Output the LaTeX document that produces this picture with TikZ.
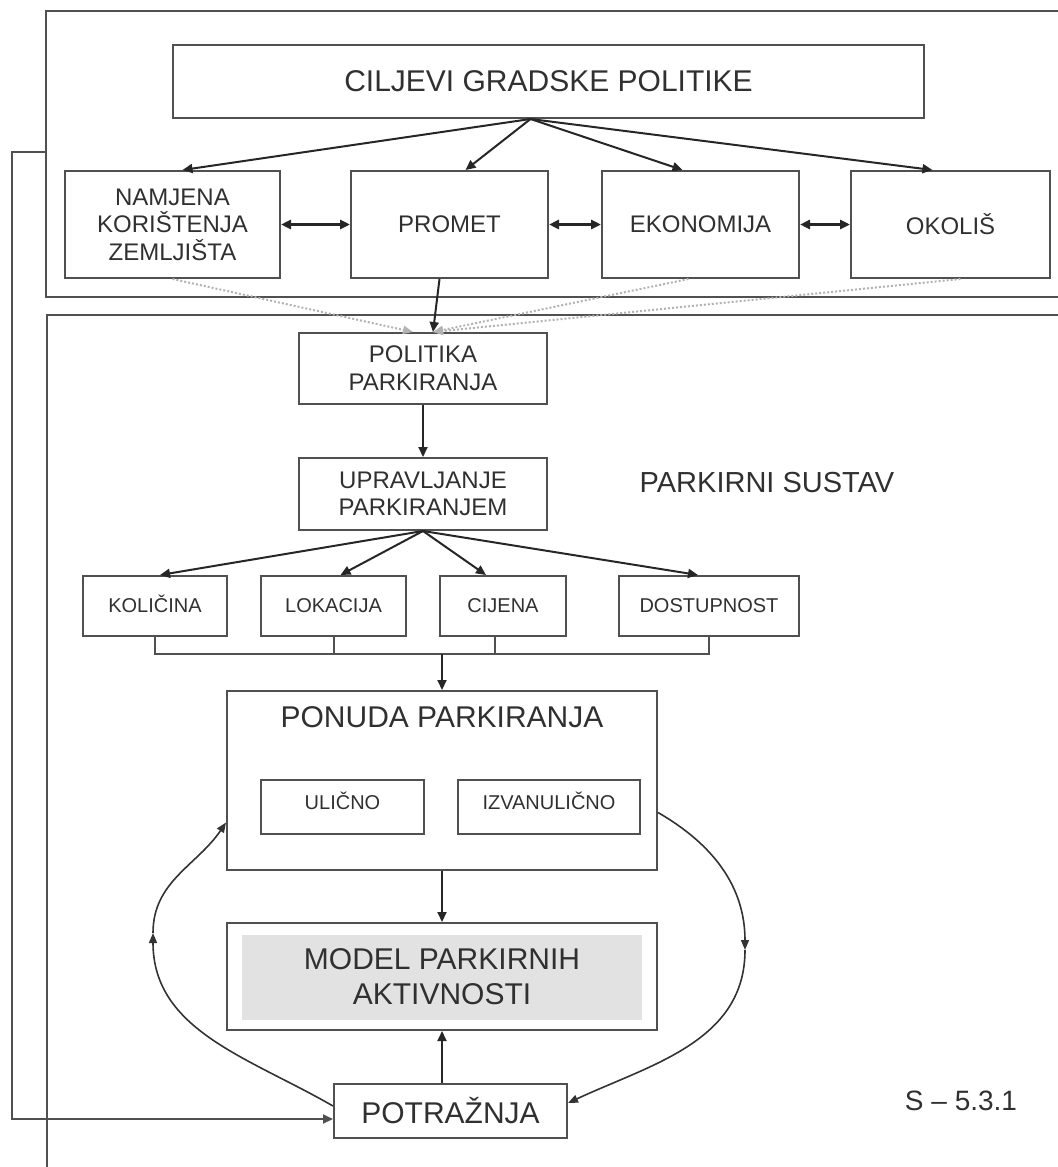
\documentclass[tikz,border=0pt]{standalone}
\usepackage{fontspec}
\setmainfont{Liberation Sans}
\usetikzlibrary{arrows.meta}
\definecolor{linegray}{HTML}{505050}
\definecolor{textgray}{HTML}{303030}
\definecolor{fillgray}{HTML}{E2E2E2}

\begin{document}
\begin{tikzpicture}[x=0.5pt, y=-0.5pt,
    box/.style={draw=linegray, line width=1pt, inner sep=0pt, align=center, text=textgray},
    big/.style={font=\fontsize{15}{17.5}\selectfont},
    mid/.style={font=\fontsize{12}{13.8}\selectfont},
    small/.style={font=\fontsize{10}{12}\selectfont, text height=7.5pt, text depth=1pt},
    frame/.style={draw=linegray, line width=1.2pt},
    arr/.style={-{Triangle[length=5pt,width=4.5pt]}, line width=1pt, black!85},
    dbl/.style={{Triangle[length=5pt,width=4.5pt]}-{Triangle[length=5pt,width=4.5pt]}, line width=1.5pt, black!85},
    curv/.style={-{Triangle[length=5pt,width=4pt]}, line width=0.8pt, black!80},
    faint/.style={-{Triangle[length=5pt,width=4pt]}, densely dotted, line width=1pt, gray!60}]
    \useasboundingbox (0,0) rectangle (1058,1167);

    % frames
    \draw[frame] (1070,11) -- (46,11) -- (46,297) -- (1070,297);
    \draw[frame] (1070,315) -- (47,315) -- (47,1175);

    % city policy
    \node[box, big, minimum width=375.5pt, minimum height=36.5pt] (cilj) at (548.5,81.5) {CILJEVI GRADSKE POLITIKE};
    \node[box, mid, minimum width=107.5pt, minimum height=53.5pt] (namjena) at (172.5,224.5) {NAMJENA\\KORIŠTENJA\\ZEMLJIŠTA};
    \node[box, mid, minimum width=98.5pt, minimum height=53.5pt] (promet) at (449.5,224.5) {PROMET};
    \node[box, mid, minimum width=98.5pt, minimum height=53.5pt] (ekonomija) at (700.5,224.5) {EKONOMIJA};
    \node[box, mid, minimum width=99.5pt, minimum height=53.5pt] (okolis) at (950.5,224.5) {OKOLIŠ};

    \draw[arr] ([xshift=-9pt]cilj.south) -- ([xshift=5pt]namjena.north);
    \draw[arr] ([xshift=-9pt]cilj.south) -- ([xshift=8pt]promet.north);
    \draw[arr] ([xshift=-9pt]cilj.south) -- ([xshift=-9pt]ekonomija.north);
    \draw[arr] ([xshift=-9pt]cilj.south) -- ([xshift=-9pt]okolis.north);
    \draw[dbl] (namjena) -- (promet);
    \draw[dbl] (promet) -- (ekonomija);
    \draw[dbl] (ekonomija) -- (okolis);

    % parking system
    \node[box, mid, minimum width=124pt, minimum height=35.5pt] (politika) at (423,368.5) {POLITIKA\\PARKIRANJA};
    \node[box, mid, minimum width=124pt, minimum height=36pt] (upravljanje) at (423,494) {UPRAVLJANJE\\PARKIRANJEM};
    \node[text=textgray, font=\fontsize{14.5}{17}\selectfont] (sustav) at (767,483) {PARKIRNI SUSTAV};

    \draw[faint] (namjena.south) -- ([xshift=-5pt]politika.north);
    \draw[faint] ([xshift=-6pt]ekonomija.south) -- ([xshift=5pt]politika.north);
    \draw[faint] ([xshift=5pt]okolis.south) -- ([xshift=5pt]politika.north);
    \draw[arr] ([xshift=-5pt]promet.south) -- ([xshift=5pt]politika.north);
    \draw[arr] (politika) -- (upravljanje);

    \node[box, small, minimum width=72pt, minimum height=30pt] (kolicina) at (155,606) {KOLIČINA};
    \node[box, small, minimum width=72.5pt, minimum height=30pt] (lokacija) at (333.5,606) {LOKACIJA};
    \node[box, small, minimum width=63pt, minimum height=30pt] (cijena) at (503,606) {CIJENA};
    \node[box, small, minimum width=90pt, minimum height=30pt] (dostupnost) at (709,606) {DOSTUPNOST};

    \draw[arr] (upravljanje.south) -- ([xshift=2.5pt]kolicina.north);
    \draw[arr] (upravljanje.south) -- ([xshift=3.5pt]lokacija.north);
    \draw[arr] (upravljanje.south) -- ([xshift=-8.5pt]cijena.north);
    \draw[arr] (upravljanje.south) -- ([xshift=-5.5pt]dostupnost.north);

    % supply
    \node[box, minimum width=215pt, minimum height=89.5pt] (ponuda) at (442,780.5) {};
    \node[text=textgray, big] (ponudatxt) at ([yshift=-13.5pt]ponuda.north) {PONUDA PARKIRANJA};
    \node[box, small, minimum width=81.5pt, minimum height=27pt, text depth=5pt] (ulicno) at (342.5,807) {ULIČNO};
    \node[box, small, minimum width=91pt, minimum height=27pt, text depth=5pt] (izvan) at (549,807) {IZVANULIČNO};

    \coordinate (join) at (442,654);
    \draw[line width=1pt, linegray] (kolicina.south) |- (join) -| (dostupnost.south);
    \draw[line width=1pt, linegray] (lokacija.south) -- (lokacija.south |- join);
    \draw[line width=1pt, linegray] ([xshift=-4pt]cijena.south) -- ([xshift=-4pt]cijena.south |- join);
    \draw[arr] (join) -- (ponuda.north);

    \node[box, big, minimum width=215pt, minimum height=53.5pt,
        path picture={\fill[fillgray] ([shift={(7.5pt,-6pt)}]path picture bounding box.north west)
            rectangle ([shift={(-7.5pt,5pt)}]path picture bounding box.south east);}]
        (model) at (442,976.5) {MODEL PARKIRNIH\\AKTIVNOSTI};
    \node[box, big, minimum width=116.5pt, minimum height=27pt] (potraznja) at (450.5,1111) {POTRAŽNJA};
    \node[text=textgray, font=\fontsize{14}{16}\selectfont] (oznaka) at (961,1101) {S -- 5.3.1};

    \draw[arr] (ponuda.south) -- (model.north);
    \draw[arr] (potraznja.north -| model.south) -- (model.south);

    % loop
    \coordinate (lmid) at (153,933);
    \coordinate (rmid) at (745,950);
    \draw[curv] ([yshift=2.5pt]potraznja.west) to[out=150, in=-90] (lmid);
    \draw[curv] (lmid) to[out=90, in=236] ([yshift=-21pt]ponuda.west);
    \draw[curv] ([yshift=-16pt]ponuda.east) to[out=-30, in=90] (rmid);
    \draw[curv] (rmid) to[out=-90, in=25] ([yshift=4pt]potraznja.east);

    % feedback
    \coordinate (fbtop) at (46,152);
    \coordinate (fbbot) at (12,1119);
    \draw[arr, draw=linegray] (fbtop) -| (fbbot) -- (fbbot -| potraznja.west);
\end{tikzpicture}
\end{document}
